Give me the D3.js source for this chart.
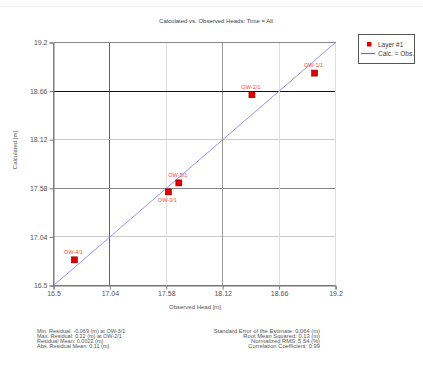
<!DOCTYPE html>
<html><head><meta charset="utf-8">
<script src="https://cdn.jsdelivr.net/npm/d3@7"></script>
<style>
body{margin:0;background:#fff;}
svg{display:block;font-family:"Liberation Sans",Arial,sans-serif;}
</style></head>
<body><svg id="c" width="423" height="365"></svg>
<script>
const wells = ["OW-4/1","OW-3/1","OW-5/1","OW-2/1","OW-1/1"];
const observed = [16.70, 17.60, 17.70, 18.40, 19.00];
const calculated = [16.785, 17.54, 17.64, 18.62, 18.86];
const labelPos = ["above","below","above","above","above"];
const ticks = [16.5, 17.04, 17.58, 18.12, 18.66, 19.2];
const tickLabels = ["16.5","17.04","17.58","18.12","18.66","19.2"];
const hGridColors = ["#777","#ccc","#888","#ccc","#111","#888"];
const vGridColors = ["#888","#666","#ddd","#999","#ddd","#ddd"];
const statsLeft = ["Min. Residual: -0.069 (m) at OW-3/1","Max. Residual: 0.22 (m) at OW-2/1","Residual Mean: 0.0022 (m)","Abs. Residual Mean: 0.11 (m)"];
const statsRight = ["Standard Error of the Estimate: 0.064 (m)","Root Mean Squared: 0.13 (m)","Normalized RMS: 5.54 (%)","Correlation Coefficient: 0.99"];

const svg = d3.select("#c");
const x = d3.scaleLinear().domain([16.5,19.2]).range([53.5,335.5]);
const y = d3.scaleLinear().domain([16.5,19.2]).range([285.5,42.5]);

svg.append("line").attr("x1",0).attr("x2",423).attr("y1",6.5).attr("y2",6.5).attr("stroke","#f0f0f0");

svg.append("text").attr("x",216).attr("y",23).attr("text-anchor","middle")
  .attr("font-size",6).attr("fill","#444").text("Calculated vs. Observed Heads: Time = All");

// grid
const g = svg.append("g");
ticks.forEach((t,i)=>{
  g.append("line").attr("x1",x.range()[0]).attr("x2",x.range()[1]).attr("y1",y(t)).attr("y2",y(t))
   .attr("stroke",hGridColors[i]).attr("shape-rendering","crispEdges");
  g.append("line").attr("y1",y.range()[0]).attr("y2",y.range()[1]).attr("x1",x(t)).attr("x2",x(t))
   .attr("stroke",vGridColors[i]).attr("shape-rendering","crispEdges");
});

// axes
const ax = d3.axisBottom(x).tickValues(ticks).tickFormat((d,i)=>tickLabels[i]).tickSize(4).tickPadding(2);
const ay = d3.axisLeft(y).tickValues(ticks).tickFormat((d,i)=>tickLabels[i]).tickSize(4).tickPadding(2);
const gx = svg.append("g").attr("transform",`translate(0,${y.range()[0]})`).call(ax);
const gy = svg.append("g").attr("transform",`translate(${x.range()[0]},0)`).call(ay);
[gx,gy].forEach(a=>{
  a.select(".domain").attr("stroke","#777");
  a.selectAll(".tick line").attr("stroke","#777");
  a.selectAll(".tick text").attr("font-size",7).attr("fill","#555").attr("font-family","Liberation Sans, Arial, sans-serif");
});

svg.append("text").attr("x",195).attr("y",309).attr("text-anchor","middle").attr("font-size",6).attr("fill","#555").text("Observed Head [m]");
svg.append("text").attr("transform","translate(17,150) rotate(-90)").attr("text-anchor","middle").attr("font-size",6).attr("fill","#555").text("Calculated [m]");

// 1:1 line
svg.append("line").attr("x1",x(16.5)).attr("y1",y(16.5)).attr("x2",x(19.2)).attr("y2",y(19.2))
  .attr("stroke","#8888ff").attr("stroke-width",0.9);

// points
const pts = svg.append("g");
wells.forEach((w,i)=>{
  const px = x(observed[i]), py = y(calculated[i]);
  pts.append("rect").attr("x",px-3).attr("y",py-3).attr("width",6).attr("height",6)
    .attr("fill","#e00000").attr("stroke","#700").attr("stroke-width",0.6);
  pts.append("text").attr("x",px-1).attr("y",labelPos[i]==="above"? py-6 : py+10)
    .attr("text-anchor","middle").attr("font-size",5.6).attr("fill","#f44").text(w);
});

// legend
const lg = svg.append("g");
lg.append("rect").attr("x",358.5).attr("y",34.5).attr("width",56).attr("height",29).attr("fill","#fff").attr("stroke","#555");
lg.append("rect").attr("x",367).attr("y",42).attr("width",4.5).attr("height",4.5).attr("fill","#e00000");
lg.append("text").attr("x",378).attr("y",46.5).attr("font-size",6.5).attr("fill","#444").text("Layer #1");
lg.append("line").attr("x1",361).attr("x2",375).attr("y1",53.5).attr("y2",53.5).attr("stroke","#6666ff").attr("stroke-width",1.2);
lg.append("text").attr("x",378).attr("y",56).attr("font-size",6.5).attr("fill","#444").text("Calc. = Obs.");

// stats
statsLeft.forEach((s,i)=>{
  svg.append("text").attr("x",37).attr("y",332.5+i*5.2).attr("font-size",5.5).attr("fill","#555").text(s);
});
statsRight.forEach((s,i)=>{
  svg.append("text").attr("x",320).attr("y",332.5+i*5.2).attr("text-anchor","end").attr("font-size",5.8).attr("fill","#555").text(s);
});
</script></body></html>
